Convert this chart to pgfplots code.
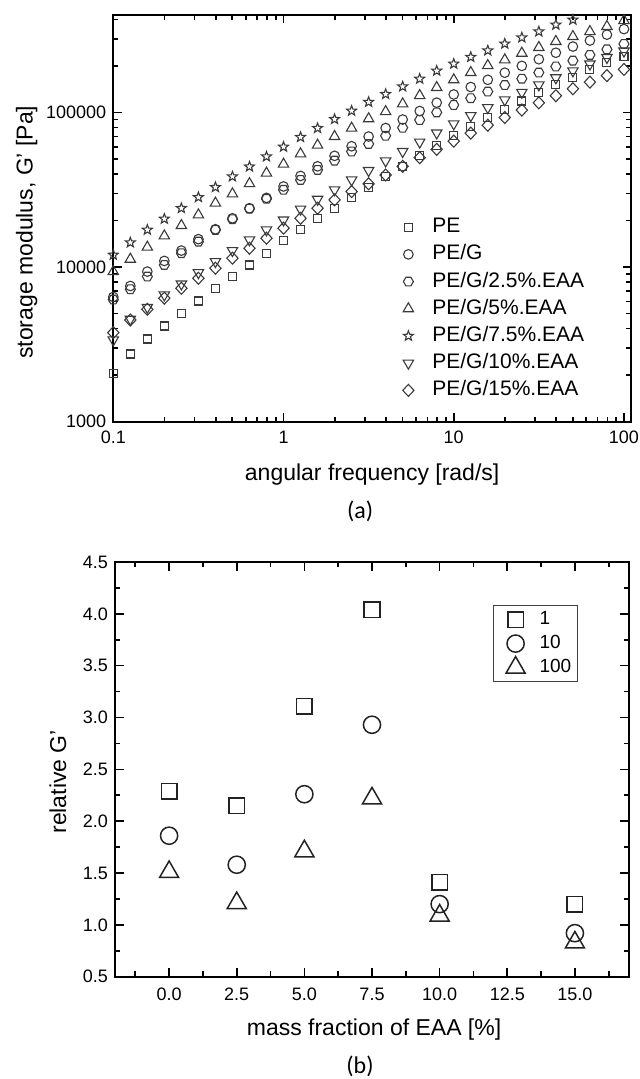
\documentclass[border=0pt]{standalone}
\usepackage{pgfplots}
\pgfplotsset{compat=1.18}
\usepackage{pgfplotstable}
\usepackage{fontspec}
\setmainfont{Liberation Sans}
\newfontfamily\capfont{Carlito}

\definecolor{mk}{HTML}{3A3A3A}
\definecolor{mkb}{HTML}{222222}

\pgfdeclareplotmark{hexa}{%
  \pgfpathmoveto{\pgfpointpolar{0}{\pgfplotmarksize}}%
  \pgfpathlineto{\pgfpointpolar{60}{\pgfplotmarksize}}%
  \pgfpathlineto{\pgfpointpolar{120}{\pgfplotmarksize}}%
  \pgfpathlineto{\pgfpointpolar{180}{\pgfplotmarksize}}%
  \pgfpathlineto{\pgfpointpolar{240}{\pgfplotmarksize}}%
  \pgfpathlineto{\pgfpointpolar{300}{\pgfplotmarksize}}%
  \pgfpathclose\pgfusepathqstroke}
\pgfdeclareplotmark{ostar}{%
  \pgfpathmoveto{\pgfpointpolar{90}{\pgfplotmarksize}}%
  \pgfpathlineto{\pgfpointpolar{126}{0.42\pgfplotmarksize}}%
  \pgfpathlineto{\pgfpointpolar{162}{\pgfplotmarksize}}%
  \pgfpathlineto{\pgfpointpolar{198}{0.42\pgfplotmarksize}}%
  \pgfpathlineto{\pgfpointpolar{234}{\pgfplotmarksize}}%
  \pgfpathlineto{\pgfpointpolar{270}{0.42\pgfplotmarksize}}%
  \pgfpathlineto{\pgfpointpolar{306}{\pgfplotmarksize}}%
  \pgfpathlineto{\pgfpointpolar{342}{0.42\pgfplotmarksize}}%
  \pgfpathlineto{\pgfpointpolar{18}{\pgfplotmarksize}}%
  \pgfpathlineto{\pgfpointpolar{54}{0.42\pgfplotmarksize}}%
  \pgfpathclose\pgfusepathqstroke}

\pgfplotstableread{
x       pe      peg     pe25    pe5     pe75    pe10    pe15
0.1     2037    6412    6166    9354    11995   3381    3767
0.1259  2742    7551    7194    11246   14421   4603    4550
0.1585  3428    9354    8690    13459   17418   5495    5333
0.1995  4159    10965   10328   15922   20512   6607    6295
0.2512  5035    12794   12303   18578   24044   7780    7295
0.3162  6039    15171   14622   21777   28314   9204    8472
0.3981  7295    17579   17378   25942   32885   10864   9840
0.5012  8690    20701   20417   29785   38548   12794   11429
0.631   10328   24044   23878   34674   44668   14997   13243
0.7943  12303   28054   27669   40551   51880   17418   15382
1       14825   33266   31623   46345   59979   20184   17865
1.259   17418   38905   36644   54075   69343   23714   20701
1.585   20512   44875   42560   61518   79250   27479   24044
1.995   24044   52481   48865   69984   90573   31623   27227
2.512   28314   60534   55976   79250   102565  36644   30832
3.162   32885   69984   62661   91201   116950  42170   34594
3.981   38459   79433   70795   101390  131522  48641   39446
5.012   44875   90157   79799   113763  147231  55976   44875
6.31    52481   102329  89536   128825  165196  64417   51051
7.943   61094   115878  100231  145211  186209  73790   57810
10      70958   130918  111944  162930  206538  84528   65313
12.59   81096   146218  123880  181552  228560  95499   73621
15.85   92470   162930  136773  201372  251768  107647  82794
19.95   104954  181134  150661  219280  278612  120781  92897
25.12   118850  200447  165577  242103  305492  135207  103753
31.62   134276  221309  181552  263633  334195  151008  115611
39.81   151008  243781  198609  288403  369828  167880  128529
50.12   169044  267301  216770  310456  398107  186209  142561
63.1    188799  292415  236048  334195  431519  206063  157398
79.43   209411  319154  256448  360579  467735  226986  173380
100     231474  346737  277971  393550  501187  250035  190108
}\topdata

\pgfplotstableread{
x     r1    r10   r100
0     2.29  1.86  1.51
2.5   2.15  1.58  1.21
5     3.11  2.26  1.71
7.5   4.04  2.93  2.22
10    1.41  1.20  1.09
15    1.20  0.92  0.83
}\botdata

\pgfplotsset{
  widelegend/.style={
    legend image code/.code={%
      \path[draw=none,fill=none] (0pt,-2pt) rectangle (20pt,2pt);
      \draw plot coordinates {(10pt,0pt)};}
  }
}

\begin{document}
\begin{tikzpicture}
\path[use as bounding box] (0pt,0pt) rectangle (319.5pt,539.5pt);

\begin{axis}[
  name=top,
  at={(56.65pt,328.65pt)}, anchor=south west,
  scale only axis, width=258.85pt, height=203.35pt,
  xmode=log, ymode=log,
  xmin=0.1, xmax=110, ymin=1000, ymax=428000,
  xtick={0.1,1,10,100}, xticklabels={0.1,1,10,100},
  ytick={1000,10000,100000}, yticklabels={1000,10000,100000},
  minor xtick={0.2,0.3,0.4,0.5,0.6,0.7,0.8,0.9,2,3,4,5,6,7,8,9,20,30,40,50,60,70,80,90},
  minor ytick={2000,3000,4000,5000,6000,7000,8000,9000,20000,30000,40000,50000,60000,70000,80000,90000,200000,300000,400000},
  tick align=inside,
  major tick length=4.2pt, minor tick length=2.3pt,
  every tick/.style={black, line width=0.8pt},
  axis line style={line width=1pt},
  tick label style={font=\fontsize{9}{10}\selectfont},
  xticklabel style={yshift=-1pt},
  every axis y label/.style={at={(axis description cs:-0.1675,0.466)}, rotate=90, anchor=center},
  every axis x label/.style={at={(axis description cs:0.5,-0.1303)}, anchor=center},
  label style={font=\fontsize{11.5}{13}\selectfont},
  xlabel={angular frequency [rad/s]},
  ylabel={storage modulus, G' [Pa]},
  widelegend,
  legend style={draw=none, fill=none, at={(0.519,0.52)}, anchor=north west,
    font=\fontsize{10.5}{12}\selectfont,
    nodes={text height=7.6pt, text depth=2pt, inner ysep=1.5pt}, row sep=1pt},
  legend cell align=left,
]
\addplot[only marks, mark=square, mark size=2pt, color=mk, line width=0.55pt] table[x=x,y=pe]{\topdata};
\addlegendentry{PE}
\addplot[only marks, mark=o, mark size=2.4pt, color=mk, line width=0.55pt] table[x=x,y=peg]{\topdata};
\addlegendentry{PE/G}
\addplot[only marks, mark=hexa, mark size=2.5pt, color=mk, line width=0.55pt] table[x=x,y=pe25]{\topdata};
\addlegendentry{PE/G/2.5\%.EAA}
\addplot[only marks, mark=triangle, mark size=3pt, color=mk, line width=0.55pt] table[x=x,y=pe5]{\topdata};
\addlegendentry{PE/G/5\%.EAA}
\addplot[only marks, mark=ostar, mark size=2.6pt, color=mk, line width=0.55pt] table[x=x,y=pe75]{\topdata};
\addlegendentry{PE/G/7.5\%.EAA}
\addplot[only marks, mark=triangle, mark size=3pt, mark options={rotate=180}, color=mk, line width=0.55pt] table[x=x,y=pe10]{\topdata};
\addlegendentry{PE/G/10\%.EAA}
\addplot[only marks, mark=diamond, mark size=3pt, mark options={xscale=1.25}, color=mk, line width=0.55pt] table[x=x,y=pe15]{\topdata};
\addlegendentry{PE/G/15\%.EAA}
\end{axis}
\node[font=\capfont\fontsize{12}{14}\selectfont] at ([xshift=-6pt,yshift=-44.65pt]top.south) {(a)};

\begin{axis}[
  name=bot,
  at={(57.5pt,51.15pt)}, anchor=south west,
  scale only axis, width=257pt, height=207.35pt,
  xmin=-2, xmax=17, ymin=0.5, ymax=4.5,
  xtick={0,2.5,5,7.5,10,12.5,15},
  xticklabels={0.0,2.5,5.0,7.5,10.0,12.5,15.0},
  minor xtick={-1.25,1.25,3.75,6.25,8.75,11.25,13.75,16.25},
  ytick={0.5,1,1.5,2,2.5,3,3.5,4,4.5},
  yticklabels={0.5,1.0,1.5,2.0,2.5,3.0,3.5,4.0,4.5},
  minor ytick={0.75,1.25,1.75,2.25,2.75,3.25,3.75,4.25},
  tick align=inside,
  major tick length=4.5pt, minor tick length=2.6pt,
  every tick/.style={black, line width=0.8pt},
  axis line style={line width=1pt},
  tick label style={font=\fontsize{9}{10}\selectfont},
  xticklabel style={yshift=-2pt},
  every axis y label/.style={at={(axis description cs:-0.1109,0.47)}, rotate=90, anchor=center},
  every axis x label/.style={at={(axis description cs:0.504,-0.1278)}, anchor=center},
  label style={font=\fontsize{11.5}{13}\selectfont},
  xlabel={mass fraction of EAA [\%]},
  ylabel={relative G'},
  widelegend,
  legend style={draw=black!75, line width=0.6pt, fill=white, at={(0.7354,0.8963)}, anchor=north west,
    font=\fontsize{9.5}{11}\selectfont, inner xsep=1pt, inner ysep=1pt,
    nodes={text height=7pt, text depth=1.8pt, inner ysep=1.6pt}, row sep=0pt},
  legend cell align=left,
]
\addplot[only marks, mark=square, mark size=3.9pt, color=mkb, line width=0.75pt] table[x=x,y=r1]{\botdata};
\addlegendentry{1}
\addplot[only marks, mark=o, mark size=4.3pt, color=mkb, line width=0.75pt] table[x=x,y=r10]{\botdata};
\addlegendentry{10}
\addplot[only marks, mark=triangle, mark size=5.5pt, color=mkb, line width=0.75pt] table[x=x,y=r100]{\botdata};
\addlegendentry{100}
\end{axis}
\node[font=\capfont\fontsize{12}{14}\selectfont] at ([xshift=-6pt,yshift=-44.65pt]bot.south) {(b)};
\end{tikzpicture}
\end{document}
